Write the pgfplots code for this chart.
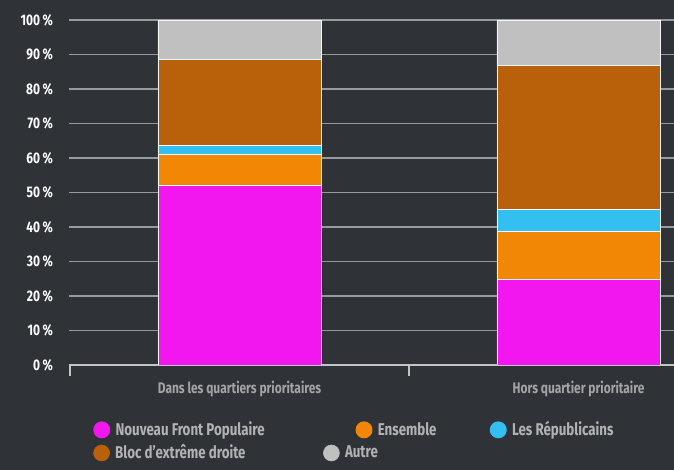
\documentclass[border=0pt]{standalone}
\usepackage{fontspec}
\setmainfont{Fira Sans}[FakeStretch=0.78]
\usepackage{pgfplots}
\usepackage{pgfplotstable}
\pgfplotsset{compat=1.18}

\definecolor{bg}{HTML}{2F3237}
\definecolor{gridc}{HTML}{979A9E}
\definecolor{axisc}{HTML}{C4C4C4}
\definecolor{catc}{HTML}{A4A4A4}
\definecolor{legc}{HTML}{B2B2B2}
\definecolor{nfp}{HTML}{F216EF}
\definecolor{ens}{HTML}{F28705}
\definecolor{lr}{HTML}{33C0F0}
\definecolor{rn}{HTML}{B8600A}
\definecolor{autre}{HTML}{C0C0C0}

% parts des voix par zone (en %)
\pgfplotstableread{
x nfp ens lr rn autre
0 52.0 9.0 2.7 24.8 11.5
1 24.8 14.0 6.3 41.7 13.2
}\votes

\pgfplotsset{
  dot/.style={legend image code/.code={\fill[#1] (6pt,0pt) circle (6pt);}},
  seg/.style={fill=#1, draw=white!92!gray, line width=0.7pt, dot=#1},
  leg/.style={draw=none, fill=none, inner sep=0pt, text=legc,
      font=\bfseries\fontsize{12.8}{14}\selectfont,
      column sep=0pt, nodes={inner xsep=4pt}},
}

\begin{document}
\begin{tikzpicture}
\path[use as bounding box, fill=bg] (0,0) rectangle (505.5pt,352.5pt);
\begin{axis}[
    name=main,
    at={(51.75pt,78.75pt)}, anchor=south west,
    scale only axis, width=453.75pt, height=258.75pt,
    xmin=-0.503, xmax=1.2817, ymin=0, ymax=100,
    ybar stacked, bar width=0.481,
    axis x line*=bottom, axis y line*=left,
    y axis line style={draw=none},
    x axis line style={draw=axisc, line width=1.1pt},
    ytick={0,10,...,100},
    yticklabels={0\,\%,10\,\%,20\,\%,30\,\%,40\,\%,50\,\%,60\,\%,70\,\%,80\,\%,90\,\%,100\,\%},
    yticklabel style={font=\bfseries\fontsize{11.5}{13}\selectfont, color=white, xshift=-4.25pt},
    ytick style={draw=none},
    ymajorgrids, major grid style={draw=gridc, line width=0.9pt},
    xtick={0,1},
    xticklabels={Dans les quartiers prioritaires, Hors quartier prioritaire},
    xticklabel style={font=\bfseries\fontsize{11.5}{13}\selectfont, color=catc, yshift=-4pt},
    major x tick style={draw=none},
    minor xtick={-0.5,0.5}, minor tick length=8pt, tick align=outside,
    minor x tick style={draw=axisc, line width=0.8pt},
    legend columns=3,
    legend style={at={(0.0397,-0.188)}, anchor=west, leg},
]
\addplot[seg=nfp] table[x=x, y=nfp] {\votes};
\addplot[seg=ens] table[x=x, y=ens] {\votes};
\addplot[seg=lr] table[x=x, y=lr] {\votes};
\addplot[seg=rn] table[x=x, y=rn] {\votes};
\addplot[seg=autre] table[x=x, y=autre] {\votes};
\legend{\makebox[176pt][l]{Nouveau Front Populaire}, \makebox[80pt][l]{Ensemble}, Les Républicains}
\end{axis}
% seconde ligne de la légende
\begin{axis}[
    at={(51.75pt,78.75pt)}, anchor=south west,
    scale only axis, width=453.75pt, height=258.75pt,
    xmin=0, xmax=1, ymin=0, ymax=1, hide axis,
    legend columns=2,
    legend style={at={(0.0397,-0.255)}, anchor=west, leg},
]
\addlegendimage{dot=rn}
\addlegendentry{\makebox[152pt][l]{Bloc d'extrême droite}}
\addlegendimage{dot=autre}
\addlegendentry{Autre}
\end{axis}
\end{tikzpicture}
\end{document}
